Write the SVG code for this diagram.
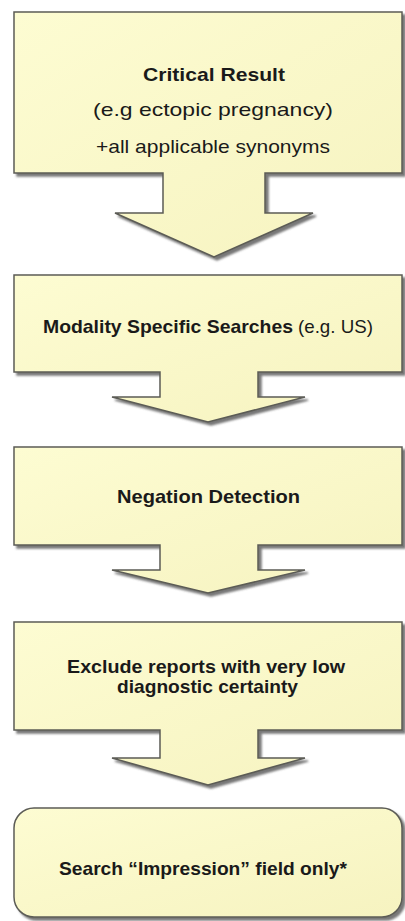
<svg xmlns="http://www.w3.org/2000/svg" width="405" height="921" viewBox="0 0 405 921">
<defs>
<linearGradient id="fillg" x1="0" y1="0" x2="1" y2="1">
<stop offset="0" stop-color="#fdfcd2"/>
<stop offset="1" stop-color="#f6f3c0"/>
</linearGradient>
<filter id="shadow" x="-5%" y="-5%" width="115%" height="120%">
<feDropShadow dx="3" dy="3" stdDeviation="1" flood-color="#4a4a4a" flood-opacity="0.75"/>
</filter>
<style>
.shape{fill:url(#fillg);stroke:#5c5c56;stroke-width:1.5;filter:url(#shadow)}
.t{font-family:"Liberation Sans",Arial,sans-serif;font-size:19px;fill:#1a1a1a}
.b{font-weight:bold}
</style>
</defs>
<rect width="405" height="921" fill="#ffffff"/>
<g id="connectors"></g>
<g id="node1">
<path class="shape" d="M14,12 H402 V173 H265 V213 H313 L214,257 L115,213 H163 V173 H14 Z"/>
<text class="t b" x="143" y="81" textLength="142" lengthAdjust="spacingAndGlyphs">Critical Result</text>
<text class="t" x="93" y="116" textLength="240" lengthAdjust="spacingAndGlyphs">(e.g ectopic pregnancy)</text>
<text class="t" x="96" y="153" textLength="234" lengthAdjust="spacingAndGlyphs">+all applicable synonyms</text>
</g>
<g id="node2">
<path class="shape" d="M14,275 H402 V372 H258 V397 H305 L208,422 L112,397 H160 V372 H14 Z"/>
<text class="t b" x="43" y="333" textLength="250" lengthAdjust="spacingAndGlyphs">Modality Specific Searches</text>
<text class="t" x="298" y="333" textLength="75" lengthAdjust="spacingAndGlyphs">(e.g. US)</text>
</g>
<g id="node3">
<path class="shape" d="M14,447 H402 V545 H258 V570 H305 L208,593 L112,570 H160 V545 H14 Z"/>
<text class="t b" x="117" y="503" textLength="183" lengthAdjust="spacingAndGlyphs">Negation Detection</text>
</g>
<g id="node4">
<path class="shape" d="M14,622 H402 V730 H258 V758 H305 L208,785 L112,758 H160 V730 H14 Z"/>
<text class="t b" x="67" y="673" textLength="278" lengthAdjust="spacingAndGlyphs">Exclude reports with very low</text>
<text class="t b" x="117" y="693" textLength="181" lengthAdjust="spacingAndGlyphs">diagnostic certainty</text>
</g>
<g id="node5">
<rect class="shape" x="14" y="808" width="388" height="109" rx="20" ry="20"/>
<text class="t b" x="59" y="875" textLength="288" lengthAdjust="spacingAndGlyphs">Search “Impression” field only*</text>
</g>
</svg>
